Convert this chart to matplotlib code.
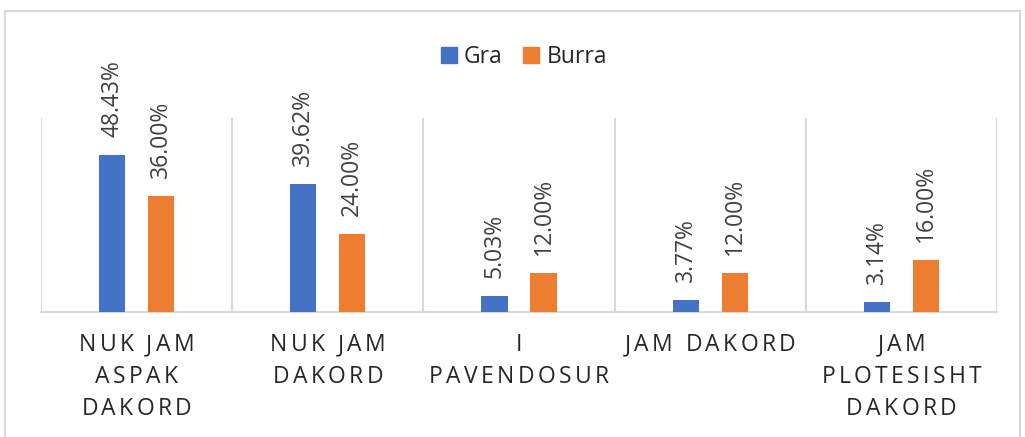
import matplotlib
matplotlib.use("Agg")
import matplotlib.pyplot as plt
import matplotlib.patches as mpatches
from matplotlib.transforms import blended_transform_factory, offset_copy
from matplotlib.font_manager import FontProperties, findfont, get_font
import numpy as np

# data
categories = [
    ["NUK JAM", "ASPAK", "DAKORD"],
    ["NUK JAM", "DAKORD"],
    ["I", "PAVENDOSUR"],
    ["JAM DAKORD"],
    ["JAM", "PLOTESISHT", "DAKORD"],
]
series_names = ["Gra", "Burra"]
gra = [48.43, 39.62, 5.03, 3.77, 3.14]
burra = [36.00, 24.00, 12.00, 12.00, 16.00]

colors = ["#4472C4", "#ED7D31"]
FONT = "Open Sans"
FS = 16.5
TXT = "#404040"

plt.rcParams['font.family'] = [FONT, 'DejaVu Sans']

fig = plt.figure(figsize=(10.25, 4.37), dpi=100)
W, H = 1025, 437
ax = fig.add_axes([41 / W, 1 - 312 / H, (997 - 41) / W, (312 - 118) / H])

x = np.arange(len(categories))
bw = 0.137
off = 0.128
for vals, c, sgn in [(gra, colors[0], -1), (burra, colors[1], 1)]:
    bars = ax.bar(x + sgn * off, vals, width=bw, color=c, zorder=3)
    for b, v in zip(bars, vals):
        ax.annotate(f"{v:.2f}%", (b.get_x() + b.get_width() / 2, v),
                    xytext=(0, 13), textcoords="offset points",
                    rotation=90, ha="center", va="bottom",
                    fontsize=FS, color=TXT)

ax.set_xlim(-0.5, len(categories) - 0.5)
ax.set_ylim(0, 60)
ax.set_xticks([])
ax.set_yticks([])
for s in ["top", "left", "right"]:
    ax.spines[s].set_visible(False)
ax.spines["bottom"].set_color("#d9d9d9")
ax.spines["bottom"].set_linewidth(1.5)
for b in np.arange(-0.5, len(categories), 1.0):
    ax.axvline(b, color="#d9d9d9", lw=1.5, zorder=1)

# letter-spaced category labels, drawn char by char
prop = FontProperties(family=FONT, size=FS)
ft = get_font(findfont(prop))
ft.set_size(FS, 72)


def adv(ch):
    g = ft.load_char(ord(ch))
    return g.linearHoriAdvance / 65536.0


spacing = 2.4  # points between letters
base = blended_transform_factory(ax.transData, fig.transFigure)
line_y = [1 - 345 / H, 1 - 377 / H, 1 - 409 / H]
for i, lines in enumerate(categories):
    for j, line in enumerate(lines):
        advs = [adv(ch) + spacing for ch in line]
        total = sum(advs) - spacing
        pos = -total / 2
        for ch, a in zip(line, advs):
            if ch != " ":
                tr = offset_copy(base, fig=fig, x=pos, y=0, units="points")
                ax.text(i, line_y[j], ch, transform=tr, ha="left", va="center",
                        fontsize=FS, color="#262626", clip_on=False)
            pos += a

# legend
handles = [mpatches.Patch(color=c, label=n) for n, c in zip(series_names, colors)]
fig.legend(handles=handles, loc="center", bbox_to_anchor=(524 / W, 1 - 57 / H),
           ncol=2, frameon=False, fontsize=FS, handlelength=0.7, handleheight=0.7,
           handletextpad=0.3, columnspacing=0.9, labelcolor="#262626")

# chart border
fig.patches.append(mpatches.Rectangle((5 / W, -0.1), (1020 - 5) / W, 1.1 - 11 / H,
                                      transform=fig.transFigure, fill=False,
                                      edgecolor="#d9d9d9", lw=1.5))

fig.savefig("out.png", dpi=100)
